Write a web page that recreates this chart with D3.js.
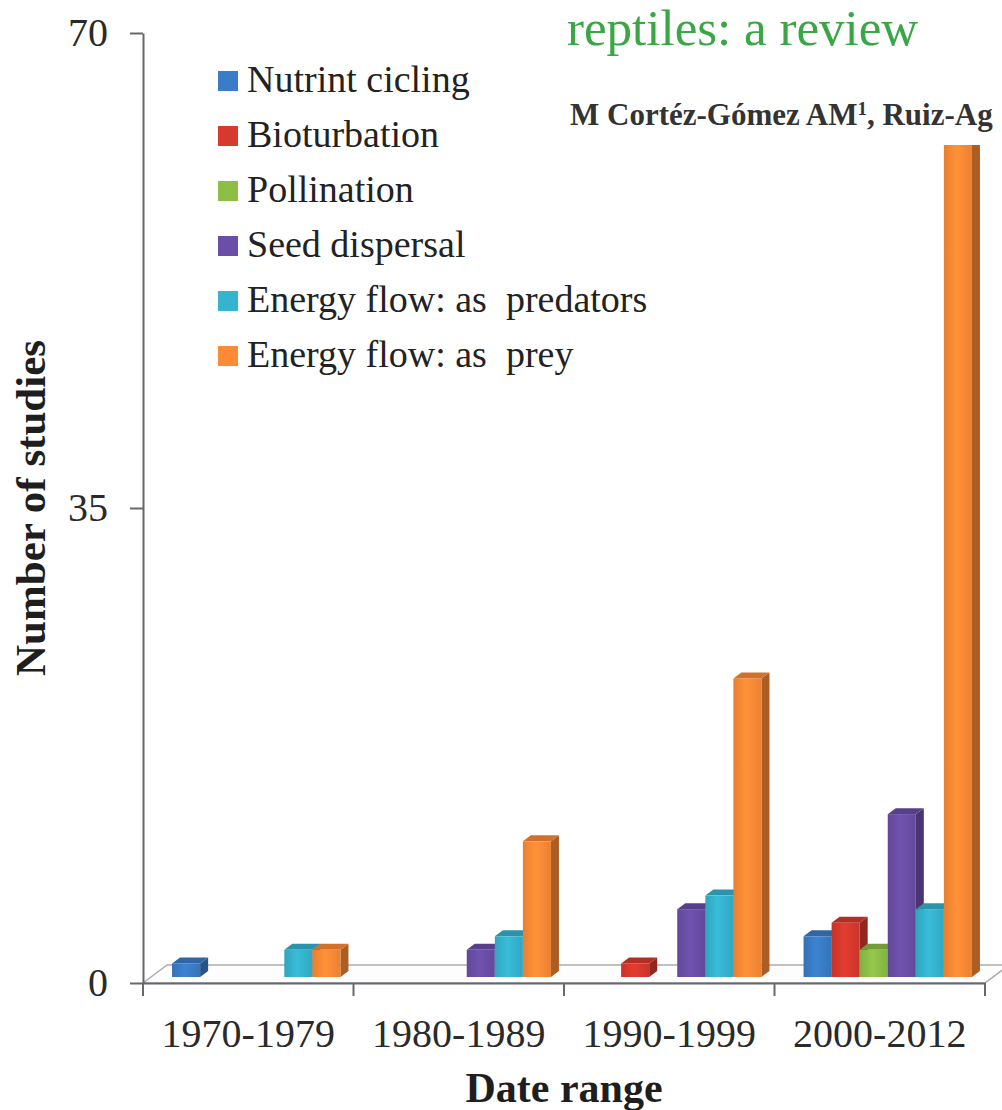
<!DOCTYPE html>
<html>
<head>
<meta charset="utf-8">
<script src="https://cdn.jsdelivr.net/npm/d3@7"></script>
<style>
	body { margin: 0; background: #fff; }
	svg text { font-family: "Liberation Serif", "Times New Roman", serif; white-space: pre; }
</style>
</head>
<body>
<div id="chart-frame"></div>
<script>
// chart data
var categories = ["1970-1979", "1980-1989", "1990-1999", "2000-2012"];
var seriesNames = ["Nutrint cicling", "Bioturbation", "Pollination", "Seed dispersal", "Energy flow: as  predators", "Energy flow: as  prey"];
var nutrientCycling = [1, 0, 0, 3];
var bioturbation = [0, 0, 1, 4];
var pollination = [0, 0, 0, 2];
var seedDispersal = [0, 2, 5, 12];
var energyPredators = [2, 3, 6, 5];
var energyPrey = [2, 10, 22, 64];
var yTicks = [0, 35, 70];

var seriesValues = [nutrientCycling, bioturbation, pollination, seedDispersal, energyPredators, energyPrey];
var seriesColors = ["#3a7cc7", "#d8392d", "#8dbf47", "#6a4ea7", "#36b3cf", "#ff8a35"];

var width = 1002, height = 1110;
var margin = {top: 33, left: 143, right: 17, bottom: 127};

var floorDx = 24, floorDy = -18;   // depth of the floor
var barShiftX = 8, barShiftY = -6; // front plane of the bars
var barDx = 8, barDy = -6;         // depth of one bar

var svg = d3.select("#chart-frame").append("svg")
			.attr("width", width)
			.attr("height", height);

var defs = svg.append("defs");

var x = d3.scaleBand()
	.domain(categories)
	.range([margin.left, width - margin.right]);

var groupWidth = x.bandwidth() * 0.8;

var xs = d3.scaleBand()
	.domain(d3.range(seriesNames.length))
	.range([0, groupWidth]);

var y = d3.scaleLinear()
	.domain([0, 70])
	.range([height - margin.bottom, margin.top]);

// gradients for front faces
seriesColors.forEach(function(c, i){
	var g = defs.append("linearGradient")
		.attr("id", "grad-" + i)
		.attr("x1", "0%").attr("x2", "100%")
		.attr("y1", "0%").attr("y2", "0%");
	g.append("stop").attr("offset", "0%").attr("stop-color", d3.color(c).darker(0.25));
	g.append("stop").attr("offset", "45%").attr("stop-color", d3.color(c).brighter(0.15));
	g.append("stop").attr("offset", "100%").attr("stop-color", d3.color(c).darker(0.2));
});

// floor
var fx0 = x.range()[0], fx1 = x.range()[1], fy = y(0);
svg.append("polygon")
	.attr("class", "floor")
	.attr("fill", "#fdfdfe")
	.attr("stroke", "#a9acaf")
	.attr("stroke-width", 1.5)
	.attr("points", fx0 + "," + fy + " " + (fx0 + floorDx) + "," + (fy + floorDy) + " " +
		(fx1 + floorDx) + "," + (fy + floorDy) + " " + fx1 + "," + fy);

// bars, drawn left to right so neighbours cover the side faces
var bars = [];
categories.forEach(function(cat, ci){
	seriesValues.forEach(function(vals, si){
		if (vals[ci] > 0) bars.push({cat: cat, series: si, value: vals[ci]});
	});
});

var grp = svg.append("g").attr("class", "bars");

var bar = grp.selectAll(".bar3d")
	.data(bars)
	.enter()
	.append("g")
	.attr("class", "bar3d");

function barX(d){ return x(d.cat) + (x.bandwidth() - groupWidth) / 2 + barShiftX + xs(d.series); }
function barTop(d){ return y(d.value) + barShiftY; }
var barBottom = y(0) + barShiftY;

// side face
bar.append("polygon")
	.attr("fill", function(d){ return d3.color(seriesColors[d.series]).darker(1.1); })
	.attr("points", function(d){
		var xr = barX(d) + xs.bandwidth(), t = barTop(d);
		return xr + "," + t + " " + (xr + barDx) + "," + (t + barDy) + " " +
			(xr + barDx) + "," + (barBottom + barDy) + " " + xr + "," + barBottom;
	});

// top face
bar.append("polygon")
	.attr("fill", function(d){ return d3.color(seriesColors[d.series]).darker(0.55); })
	.attr("points", function(d){
		var xl = barX(d), xr = xl + xs.bandwidth(), t = barTop(d);
		return xl + "," + t + " " + (xl + barDx) + "," + (t + barDy) + " " +
			(xr + barDx) + "," + (t + barDy) + " " + xr + "," + t;
	});

// front face
bar.append("rect")
	.attr("x", barX)
	.attr("y", barTop)
	.attr("width", xs.bandwidth())
	.attr("height", function(d){ return barBottom - barTop(d); })
	.attr("fill", function(d){ return "url(#grad-" + d.series + ")"; });

// y axis
var yAxis = svg.append("g")
	.attr("transform", "translate(" + margin.left + ",0)")
	.call(d3.axisLeft(y).tickValues(yTicks).tickSize(13).tickSizeOuter(0).tickPadding(22));

// x axis, labels only, ticks at the band edges
var xAxis = svg.append("g")
	.attr("transform", "translate(0," + y(0) + ")")
	.call(d3.axisBottom(x).tickSize(0).tickSizeOuter(0).tickPadding(36));

svg.append("g")
	.selectAll("line")
	.data(categories.map(function(c){ return x(c); }).concat([x.range()[1]]))
	.enter()
	.append("line")
	.attr("x1", function(d){ return d; })
	.attr("x2", function(d){ return d; })
	.attr("y1", y(0))
	.attr("y2", y(0) + 13)
	.attr("stroke", "#66696c")
	.attr("stroke-width", 2);

[yAxis, xAxis].forEach(function(a){
	a.selectAll("path, line").attr("stroke", "#66696c").attr("stroke-width", 2);
	a.selectAll("text")
		.attr("fill", "#2a2a2a")
		.style("font-family", "'Liberation Serif', serif")
		.style("font-size", "40px");
});

// axis titles
svg.append("text")
	.attr("transform", "translate(45," + y(35) + ") rotate(-90)")
	.attr("text-anchor", "middle")
	.attr("fill", "#1e1e1e")
	.style("font-size", "43px")
	.style("font-weight", "bold")
	.text("Number of studies");

svg.append("text")
	.attr("x", (x.range()[0] + x.range()[1]) / 2)
	.attr("y", 1102)
	.attr("text-anchor", "middle")
	.attr("fill", "#1e1e1e")
	.style("font-size", "42px")
	.style("font-weight", "bold")
	.text("Date range");

// legend
var legend = svg.append("g")
	.attr("class", "legend")
	.attr("transform", "translate(218,92)");

var item = legend.selectAll(".item")
	.data(seriesNames)
	.enter()
	.append("g")
	.attr("transform", function(d, i){ return "translate(0," + (i * 55) + ")"; });

item.append("rect")
	.attr("x", 0)
	.attr("y", -21)
	.attr("width", 20)
	.attr("height", 20)
	.attr("fill", function(d, i){ return seriesColors[i]; });

item.append("text")
	.attr("x", 29)
	.attr("y", 0)
	.attr("fill", "#222")
	.style("font-size", "38px")
	.text(function(d){ return d; });

// header of the page laid over the chart
svg.append("rect")
	.attr("x", 556)
	.attr("y", 0)
	.attr("width", width - 556)
	.attr("height", 145)
	.attr("fill", "#fff");

svg.append("text")
	.attr("x", 567)
	.attr("y", 45)
	.attr("fill", "#3aa646")
	.style("font-size", "51px")
	.text("reptiles: a review");

var author = svg.append("text")
	.attr("x", 570)
	.attr("y", 125)
	.attr("fill", "#333")
	.style("font-size", "31px")
	.style("font-weight", "bold")
	.text("M Cortéz-Gómez AM");
author.append("tspan")
	.attr("dy", -10)
	.style("font-size", "19px")
	.text("1");
author.append("tspan")
	.attr("dy", 10)
	.text(", Ruiz-Ag");
</script>
</body>
</html>
